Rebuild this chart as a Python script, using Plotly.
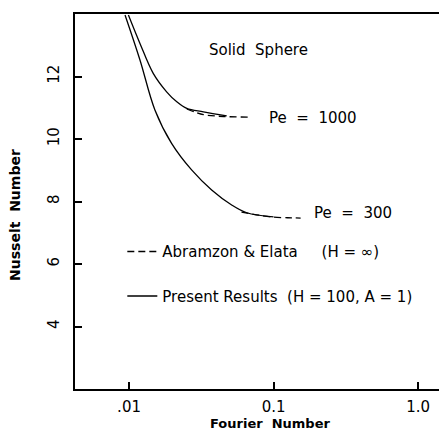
import plotly.graph_objects as go

# Pe = 1000, present results (solid)
f_1000 = [0.0099, 0.0119, 0.0147, 0.0182, 0.0214, 0.0251, 0.0327, 0.0474]
nu_1000 = [13.97, 13.06, 12.10, 11.51, 11.19, 10.98, 10.87, 10.74]
# Pe = 1000, Abramzon & Elata (dashed)
f_1000_ae = [0.0251, 0.0327, 0.0450, 0.0670]
nu_1000_ae = [10.96, 10.78, 10.72, 10.70]
# Pe = 300, present results (solid)
f_300 = [0.00938, 0.0119, 0.0151, 0.0197, 0.0271, 0.0373, 0.0513, 0.0653, 0.100]
nu_300 = [13.97, 12.53, 10.93, 9.86, 9.01, 8.37, 7.89, 7.64, 7.51]
# Pe = 300, Abramzon & Elata (dashed)
f_300_ae = [0.060, 0.080, 0.100, 0.125, 0.154]
nu_300_ae = [7.66, 7.56, 7.50, 7.48, 7.47]

x_tickvals = [0.01, 0.1, 1.0]
x_ticktext = [".01", "0.1", "1.0"]
y_tickvals = [4, 6, 8, 10, 12]
y_ticktext = ["4", "6", "8", "10", "12"]

FONT = "DejaVu Sans"
dash_style = "7px,4px"

fig = go.Figure()
fig.add_trace(go.Scatter(x=f_1000_ae, y=nu_1000_ae, mode="lines",
                         line=dict(color="black", width=1.3, dash=dash_style, shape="spline", smoothing=0.8),
                         name="Abramzon & Elata     (H = \u221e)",
                         legendgroup="ae", legendrank=1, showlegend=True))
fig.add_trace(go.Scatter(x=f_300_ae, y=nu_300_ae, mode="lines",
                         line=dict(color="black", width=1.3, dash=dash_style, shape="spline", smoothing=0.8),
                         legendgroup="ae", showlegend=False))
fig.add_trace(go.Scatter(x=f_1000, y=nu_1000, mode="lines",
                         line=dict(color="black", width=1.3, shape="spline", smoothing=1.0),
                         name="Present Results  (H = 100, A = 1)",
                         legendgroup="pr", legendrank=2, showlegend=True))
fig.add_trace(go.Scatter(x=f_300, y=nu_300, mode="lines",
                         line=dict(color="black", width=1.3, shape="spline", smoothing=1.0),
                         legendgroup="pr", showlegend=False))

fig.update_layout(
    width=439, height=433,
    margin=dict(l=75, r=0, t=14, b=44),
    paper_bgcolor="white", plot_bgcolor="white",
    font=dict(family=FONT, size=15, color="black"),
    showlegend=True,
    legend=dict(x=0.13, y=0.41, xanchor="left", yanchor="top",
                bgcolor="rgba(0,0,0,0)", tracegroupgap=22,
                font=dict(family=FONT, size=15, color="black")),
    xaxis=dict(type="log", range=[-2.374, 0.145],
               tickvals=x_tickvals, ticktext=x_ticktext,
               ticks="inside", ticklen=7, tickwidth=1.5, tickcolor="black",
               showline=True, linewidth=2, linecolor="black", mirror=True,
               showgrid=False, zeroline=False,
               tickfont=dict(family=FONT, size=15), ticklabelstandoff=3),
    yaxis=dict(range=[2, 14],
               tickvals=y_tickvals, ticktext=y_ticktext, tickangle=-90,
               ticks="inside", ticklen=7, tickwidth=1.5, tickcolor="black",
               showline=True, linewidth=2, linecolor="black",
               showgrid=False, zeroline=False,
               tickfont=dict(family=FONT, size=15), ticklabelstandoff=8),
)

fig.add_annotation(text="<b>Fourier  Number</b>", xref="paper", yref="paper",
                   x=0.536, y=-0.118, xanchor="center", yanchor="bottom",
                   showarrow=False, font=dict(family=FONT, size=13))
fig.add_annotation(text="<b>Nusselt  Number</b>", xref="paper", yref="paper",
                   x=-0.165, y=0.464, xanchor="center", yanchor="middle",
                   textangle=-90, showarrow=False, font=dict(family=FONT, size=14))
fig.add_annotation(text="Solid  Sphere", xref="x", yref="y",
                   x=-1.107, y=12.85, xanchor="center", yanchor="middle",
                   showarrow=False, font=dict(family=FONT, size=15))
fig.add_annotation(text="Pe  =  1000", xref="x", yref="y",
                   x=-1.045, y=10.67, xanchor="left", yanchor="middle",
                   showarrow=False, font=dict(family=FONT, size=15))
fig.add_annotation(text="Pe  =  300", xref="x", yref="y",
                   x=-0.734, y=7.63, xanchor="left", yanchor="middle",
                   showarrow=False, font=dict(family=FONT, size=15))

fig.write_html("out.html")
